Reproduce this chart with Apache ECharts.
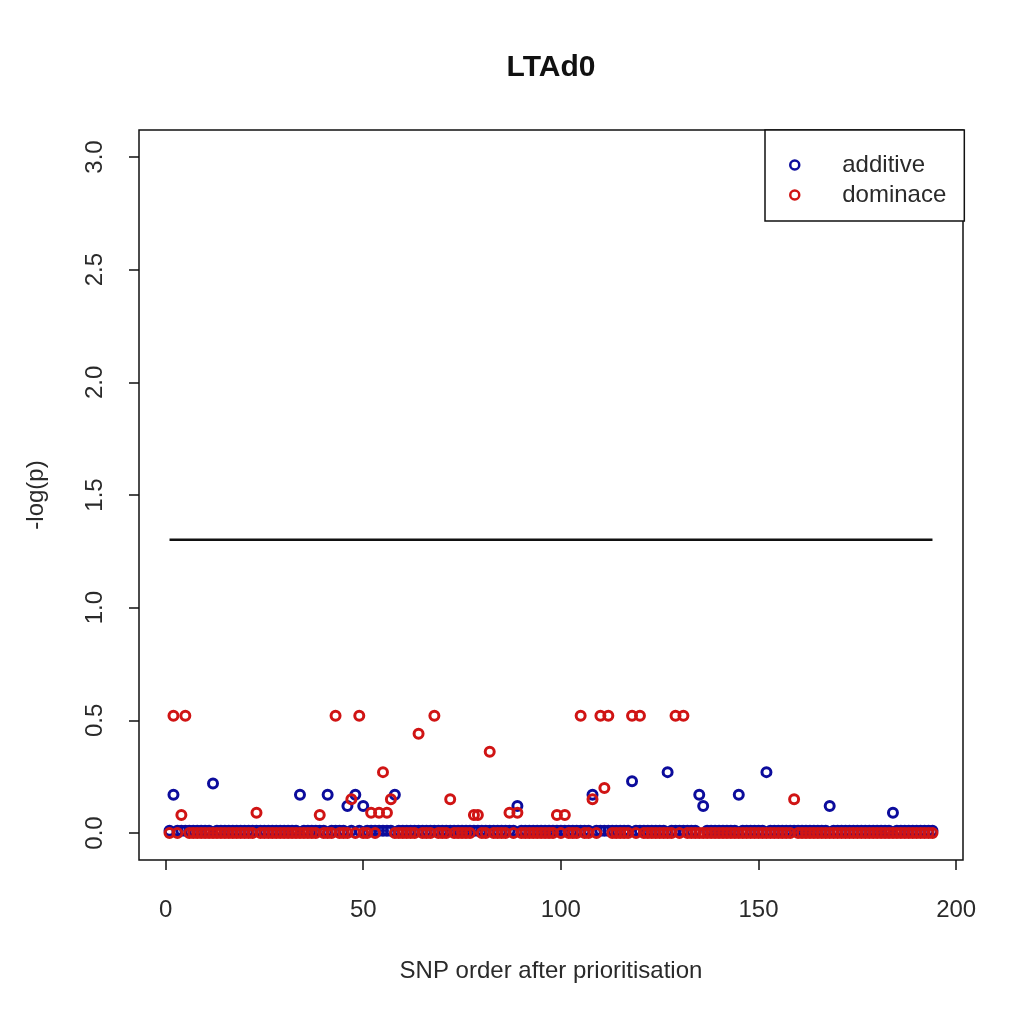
<!DOCTYPE html>
<html>
<head>
<meta charset="utf-8">
<script src="https://cdn.jsdelivr.net/npm/echarts@6/dist/echarts.min.js"></script>
<style>
html,body{margin:0;padding:0;background:#fff;}
#chart{width:1020px;height:1012px;}
</style>
</head>
<body>
<div id="chart"></div>
<script>
// SNP order 1..194
var additive = [
0.01,0.17,0.01,0.01,0.01,0.01,0.01,0.01,0.01,0.01,
0.01,0.22,0.01,0.01,0.01,0.01,0.01,0.01,0.01,0.01,
0.01,0.01,0.01,0.01,0.01,0.01,0.01,0.01,0.01,0.01,
0.01,0.01,0.01,0.17,0.01,0.01,0.01,0.01,0.01,0.01,
0.17,0.01,0.01,0.01,0.01,0.12,0.01,0.17,0.01,0.12,
0.01,0.01,0.01,0.01,0.01,0.01,0.01,0.17,0.01,0.01,
0.01,0.01,0.01,0.01,0.01,0.01,0.01,0.01,0.01,0.01,
0.01,0.01,0.01,0.01,0.01,0.01,0.01,0.01,0.01,0.01,
0.01,0.01,0.01,0.01,0.01,0.01,0.01,0.01,0.12,0.01,
0.01,0.01,0.01,0.01,0.01,0.01,0.01,0.01,0.01,0.01,
0.01,0.01,0.01,0.01,0.01,0.01,0.01,0.17,0.01,0.01,
0.01,0.01,0.01,0.01,0.01,0.01,0.01,0.23,0.01,0.01,
0.01,0.01,0.01,0.01,0.01,0.01,0.27,0.01,0.01,0.01,
0.01,0.01,0.01,0.01,0.17,0.12,0.01,0.01,0.01,0.01,
0.01,0.01,0.01,0.01,0.17,0.01,0.01,0.01,0.01,0.01,
0.01,0.27,0.01,0.01,0.01,0.01,0.01,0.01,0.01,0.01,
0.01,0.01,0.01,0.01,0.01,0.01,0.01,0.12,0.01,0.01,
0.01,0.01,0.01,0.01,0.01,0.01,0.01,0.01,0.01,0.01,
0.01,0.01,0.01,0.09,0.01,0.01,0.01,0.01,0.01,0.01,
0.01,0.01,0.01,0.01
];
var dominance = [
0,0.52,0,0.08,0.52,0,0,0,0,0,
0,0,0,0,0,0,0,0,0,0,
0,0,0.09,0,0,0,0,0,0,0,
0,0,0,0,0,0,0,0,0.08,0,
0,0,0.52,0,0,0,0.15,0,0.52,0,
0,0.09,0,0.09,0.27,0.09,0.15,0,0,0,
0,0,0,0.44,0,0,0,0.52,0,0,
0,0.15,0,0,0,0,0,0.08,0.08,0,
0,0.36,0,0,0,0,0.09,0,0.09,0,
0,0,0,0,0,0,0,0,0.08,0,
0.08,0,0,0,0.52,0,0,0.15,0,0.52,
0.20,0.52,0,0,0,0,0,0.52,0,0.52,
0,0,0,0,0,0,0,0,0.52,0,
0.52,0,0,0,0,0,0,0,0,0,
0,0,0,0,0,0,0,0,0,0,
0,0,0,0,0,0,0,0,0.15,0,
0,0,0,0,0,0,0,0,0,0,
0,0,0,0,0,0,0,0,0,0,
0,0,0,0,0,0,0,0,0,0,
0,0,0,0
];
var thresholdX = [1, 194];
var thresholdY = 1.30103;
var xTicks = [0, 50, 100, 150, 200];
var yTicks = [0, 0.5, 1, 1.5, 2, 2.5, 3];
var seriesNames = ['additive', 'dominace'];

var BLUE = '#0c0c9c';
var RED = '#d01414';
var FONT = 'Liberation Sans, Arial, sans-serif';

function toPoints(arr){ return arr.map(function(v,i){ return [i+1, v]; }); }

var chart = echarts.init(document.getElementById('chart'), null, {renderer:'canvas'});
chart.setOption({
  backgroundColor: '#fff',
  animation: false,
  title: {
    text: 'LTAd0', left: 551, top: 53, textAlign: 'center', padding: 0,
    textStyle: {fontFamily: FONT, fontSize: 30, fontWeight: 'bold', color: '#111'}
  },
  grid: {left: 139, right: 57, top: 130, bottom: 152, show: true, borderColor: '#111', borderWidth: 1.5, containLabel: false},
  xAxis: {
    type: 'value', min: -6.72, max: 201.72,
    name: 'SNP order after prioritisation', nameLocation: 'middle', nameGap: 99,
    nameTextStyle: {fontFamily: FONT, fontSize: 24, color: '#2a2a2a'},
    axisLine: {show: false, onZero: false},
    axisTick: {show: true, inside: false, length: 10, customValues: xTicks, lineStyle: {color: '#111', width: 1.5}},
    axisLabel: {customValues: xTicks, margin: 38, fontFamily: FONT, fontSize: 24, color: '#2a2a2a'},
    splitLine: {show: false}
  },
  yAxis: {
    type: 'value', min: -0.12, max: 3.12,
    name: '-log(p)', nameLocation: 'middle', nameGap: 91, nameRotate: 90,
    nameTextStyle: {fontFamily: FONT, fontSize: 24, color: '#2a2a2a'},
    axisLine: {show: false, onZero: false},
    axisTick: {show: true, inside: false, length: 10, customValues: yTicks, lineStyle: {color: '#111', width: 1.5}},
    axisLabel: {customValues: yTicks, rotate: 90, margin: 32, fontFamily: FONT, fontSize: 24, color: '#2a2a2a',
      formatter: function(v){ return v.toFixed(1); }},
    splitLine: {show: false}
  },
  legend: {
    orient: 'vertical', left: 765, top: 130,
    padding: [20, 18, 11, 24], itemGap: 0, itemWidth: 9, itemHeight: 9,
    backgroundColor: '#fff', borderColor: '#111', borderWidth: 1.5, borderRadius: 0,
    textStyle: {fontFamily: FONT, fontSize: 24, color: '#2a2a2a', lineHeight: 30, padding: [0,0,0,38]},
    data: [
      {name: seriesNames[0], icon: 'circle', itemStyle: {color: '#fff', borderColor: BLUE, borderWidth: 2.5}},
      {name: seriesNames[1], icon: 'circle', itemStyle: {color: '#fff', borderColor: RED, borderWidth: 2.5}}
    ]
  },
  series: [
    {
      name: seriesNames[0], type: 'scatter', data: toPoints(additive),
      symbol: 'circle', symbolSize: 9,
      itemStyle: {color: 'rgba(0,0,0,0)', borderColor: BLUE, borderWidth: 3, opacity: 1},
      emphasis: {disabled: true}, z: 3
    },
    {
      name: seriesNames[1], type: 'scatter', data: toPoints(dominance),
      symbol: 'circle', symbolSize: 9,
      itemStyle: {color: 'rgba(0,0,0,0)', borderColor: RED, borderWidth: 3, opacity: 1},
      emphasis: {disabled: true}, z: 4
    },
    {
      name: 'threshold', type: 'line', data: thresholdX.map(function(x){ return [x, thresholdY]; }),
      symbol: 'none', lineStyle: {color: '#111', width: 2.5}, z: 2, silent: true
    }
  ]
});
</script>
</body>
</html>
